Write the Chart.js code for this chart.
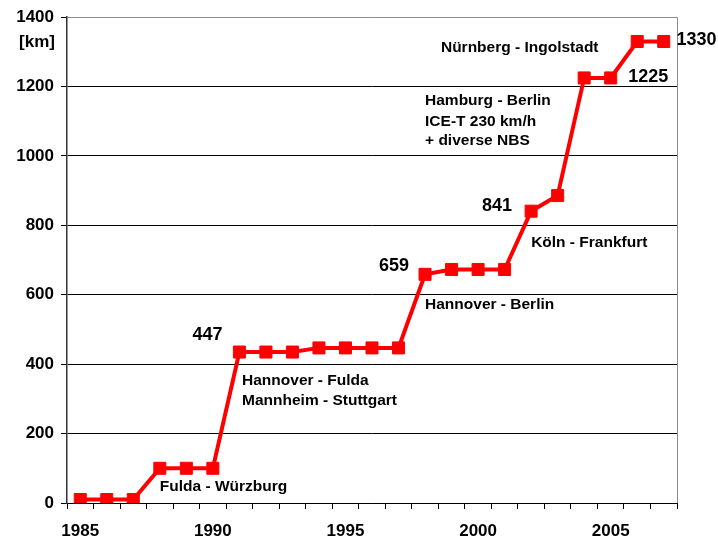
<!DOCTYPE html>
<html>
<head>
<meta charset="utf-8">
<script src="https://cdn.jsdelivr.net/npm/chart.js@4/dist/chart.umd.min.js"></script>
<style>
  html, body { margin: 0; padding: 0; background: #fff; }
  #wrap { width: 718px; height: 544px; }
</style>
</head>
<body>
<div id="wrap"><canvas id="chart" width="718" height="544"></canvas></div>
<script>
// ========================================
// DATA
// ========================================
const years = ['1985','1986','1987','1988','1989','1990','1991','1992','1993','1994','1995','1996',
               '1997','1998','1999','2000','2001','2002','2003','2004','2005','2006','2007'];
const km = [10, 10, 10, 100, 100, 100, 435, 435, 435, 447, 447, 447,
            447, 659, 673, 673, 673, 841, 886, 1225, 1225, 1330, 1330];
const yTicks = [0, 200, 400, 600, 800, 1000, 1200, 1400];
const xLabelEvery = 5;
const unitLabel = '[km]';

// route notes + value callouts, anchored in data space (year, km)
const notes = [
  { text: 'Fulda - Würzburg', year: 1988.0, km: 48, align: 'left', big: false },
  { text: 'Hannover - Fulda', year: 1991.1, km: 352, align: 'left', big: false },
  { text: 'Mannheim - Stuttgart', year: 1991.1, km: 295, align: 'left', big: false },
  { text: 'Hannover - Berlin', year: 1998.0, km: 570, align: 'left', big: false },
  { text: 'Köln - Frankfurt', year: 2002.0, km: 750, align: 'left', big: false },
  { text: 'Hamburg - Berlin', year: 1998.0, km: 1159, align: 'left', big: false },
  { text: 'ICE-T 230 km/h', year: 1998.0, km: 1099, align: 'left', big: false },
  { text: '+ diverse NBS', year: 1998.0, km: 1044, align: 'left', big: false },
  { text: 'Nürnberg - Ingolstadt', year: 1998.6, km: 1312, align: 'left', big: false }
];
const callouts = [
  { text: '447', year: 1989.8, km: 484, align: 'center', big: true },
  { text: '659', year: 1997.4, km: 682, align: 'right', big: true },
  { text: '841', year: 2001.28, km: 857, align: 'right', big: true },
  { text: '1225', year: 2005.66, km: 1228, align: 'left', big: true },
  { text: '1330', year: 2007.48, km: 1333, align: 'left', big: true }
];

const FONT = '"Liberation Sans", Arial, sans-serif';

// ========================================
// PLUGIN: frame + texts
// ========================================
const decorPlugin = {
  id: 'decor',
  afterDatasetsDraw(chart) {
    const { ctx, chartArea, scales } = chart;
    ctx.save();
    // right border of the plot
    ctx.strokeStyle = '#8c8c8c';
    ctx.lineWidth = 1;
    ctx.beginPath();
    ctx.moveTo(Math.round(chartArea.right) + 0.5, chartArea.top);
    ctx.lineTo(Math.round(chartArea.right) + 0.5, chartArea.bottom);
    ctx.stroke();

    ctx.fillStyle = '#000';
    ctx.textBaseline = 'middle';
    notes.concat(callouts).forEach(n => {
      ctx.font = `bold ${n.big ? 18 : 15.5}px ${FONT}`;
      ctx.textAlign = n.align;
      const x = scales.x.getPixelForValue(n.year - Number(years[0]));
      const y = scales.y.getPixelForValue(n.km);
      ctx.fillText(n.text, x, y);
    });

    // unit label under the top tick
    ctx.font = `bold 17px ${FONT}`;
    ctx.textAlign = 'right';
    ctx.fillText(unitLabel, 55, 42);
    ctx.restore();
  }
};

// ========================================
// CHART
// ========================================
new Chart(document.getElementById('chart'), {
  type: 'line',
  data: {
    labels: years,
    datasets: [{
      data: km,
      borderColor: '#ff0000',
      backgroundColor: '#ff0000',
      borderWidth: 4,
      tension: 0,
      pointStyle: 'rect',
      pointRadius: 8.5,
      pointBorderWidth: 1,
      pointBorderColor: '#ff0000',
      pointBackgroundColor: '#ff0000'
    }]
  },
  options: {
    responsive: false,
    animation: false,
    devicePixelRatio: 1,
    layout: { padding: { top: 16, right: 41, left: 0, bottom: 0 } },
    plugins: {
      legend: { display: false },
      tooltip: { enabled: false }
    },
    scales: {
      x: {
        type: 'category',
        offset: true,
        afterFit: (s) => { s.height = 41; },
        grid: {
          offset: true,
          drawOnChartArea: false,
          drawTicks: true,
          tickLength: 6,
          tickColor: '#000',
          color: '#000'
        },
        border: { display: true, color: '#000', width: 1 },
        ticks: {
          autoSkip: false,
          maxRotation: 0,
          padding: 12,
          color: '#000',
          font: { family: FONT, size: 17, weight: 'bold' },
          callback: function (val, i) {
            const y = Number(years[i]);
            return (y - Number(years[0])) % xLabelEvery === 0 ? years[i] : '';
          }
        }
      },
      y: {
        min: yTicks[0],
        max: yTicks[yTicks.length - 1],
        afterFit: (s) => { s.width = 67; },
        afterBuildTicks: (s) => { s.ticks = yTicks.map(v => ({ value: v })); },
        grid: {
          color: (c) => (c.tick && c.tick.value === 1400 ? '#8c8c8c' : '#000'),
          tickColor: '#000',
          tickLength: 6,
          lineWidth: 1
        },
        border: { display: true, color: '#333', width: 1.5 },
        ticks: {
          padding: 7,
          color: '#000',
          font: { family: FONT, size: 17, weight: 'bold' },
          callback: (v) => String(v)
        }
      }
    }
  },
  plugins: [decorPlugin]
});
</script>
</body>
</html>
